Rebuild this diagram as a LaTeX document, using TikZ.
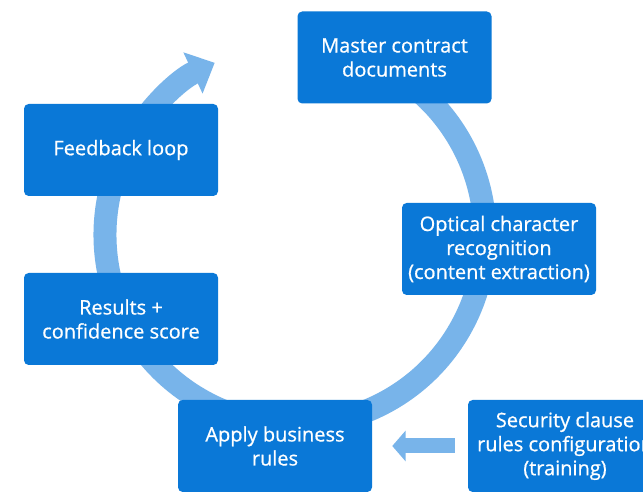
\documentclass[tikz,border=0pt]{standalone}
\usepackage{fontspec}
\setmainfont{Open Sans}
\newfontfamily\boxfont{Open Sans}[FakeBold=0.7]
\usetikzlibrary{arrows.meta}
\definecolor{boxblue}{HTML}{0A78D7}
\definecolor{arcblue}{HTML}{78B4EA}
\begin{document}
\begin{tikzpicture}[x=0.75pt,y=0.75pt,
  box/.style={fill=boxblue, rounded corners=3.5pt, minimum width=145.5pt, minimum height=69pt,
    inner sep=0pt, text=white, align=center, font=\boxfont\fontsize{15}{18}\selectfont},
  looparc/.style={draw=arcblue, line width=17.25pt, -{Triangle[length=18pt,width=33pt]}},
  sidearrow/.style={draw=arcblue, line width=11.25pt, -{Triangle[length=10pt,width=22.5pt]}}]
\useasboundingbox (0,0) rectangle (643,492);
\clip (0,0) rectangle (643,492);
\fill[white] (0,0) rectangle (643,492);
\coordinate (C) at (295,257);
\draw[looparc] (C) ++(60:190) arc[start angle=60, end angle=-245, radius=190];
\node[box] (master) at (394.5,434.5) {Master contract\\documents};
\node[box] (feedback) at (121,342) {Feedback loop};
\node[box] (ocr) at (499,243) {Optical character\\recognition\\(content extraction)};
\node[box] (results) at (121,173) {Results +\\confidence score};
\node[box] (apply) at (275,46) {Apply business\\rules};
\node[box] (sec) at (565,46) {Security clause\\rules configuration\\(training)};
\draw[sidearrow, shorten <=9.75pt, shorten >=15pt] (sec.west) -- (sec.west -| apply.east);
\end{tikzpicture}
\end{document}
